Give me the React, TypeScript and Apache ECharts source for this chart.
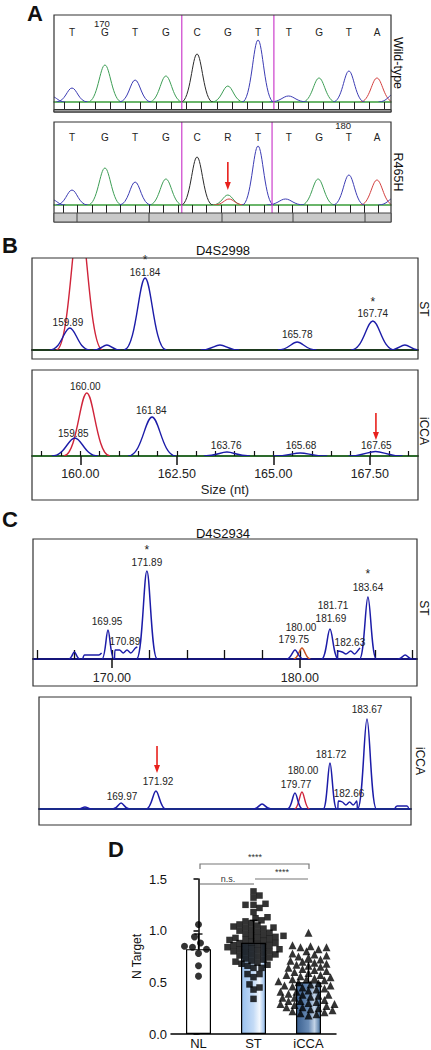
import React, { useEffect, useRef } from "react";
import * as echarts from "echarts";

const FONT = "'Liberation Sans', Arial, Helvetica, sans-serif";

// ---------------- Panel A: Sanger chromatograms (x = base index, y = signal) ----------------
const basePositions = [0, 1.08, 2.07, 3.08, 4.1, 5.11, 6.1, 7.11, 8.1, 9.08, 10];
const baseCallsWT = ["T", "G", "T", "G", "C", "G", "T", "T", "G", "T", "A"];
const baseCallsMut = ["T", "G", "T", "G", "C", "R", "T", "T", "G", "T", "A"];
// peaks: [position, height, half-width]
const wtBlue = [[-0.62, 5, 0.4], [0, 14, 0.52], [2.07, 22, 0.52], [6.1, 62, 0.52], [7.1, 6, 0.62], [9.08, 31, 0.52], [10.55, 8, 0.5]];
const wtGreen = [[1.08, 37, 0.56], [3.08, 26, 0.55], [5.11, 16, 0.52], [8.1, 24, 0.55]];
const wtBlack = [[4.1, 48, 0.52]];
const wtRed = [[10, 24, 0.55]];
const mutBlue = [[-0.62, 5, 0.4], [0, 15, 0.52], [2.07, 23, 0.52], [6.1, 59, 0.52], [7.0, 6, 0.62], [9.08, 30, 0.52], [10.55, 7, 0.5]];
const mutGreen = [[1.08, 37, 0.56], [3.08, 26, 0.55], [5.11, 10, 0.5], [8.07, 26, 0.55]];
const mutBlack = [[4.1, 48, 0.52]];
const mutRed = [[5.15, 6, 0.5], [10, 25, 0.55]];
const magentaWT = [3.6, 6.62];
const magentaMut = [3.6, 6.56];
const arrowMut = [[5.11, 43, 15]];
const wtNumbers = [{ x: 0.98, y: 79, t: "170" }];
const mutNumbers = [{ x: 8.89, y: 79.5, t: "180" }];

// ---------------- Panel B: D4S2998 (x = size nt) ----------------
const b1Blue = [[159.89, 22, 0.52], [160.85, 5, 0.35], [161.84, 72, 0.55], [163.78, 5, 0.5], [165.78, 8, 0.5], [167.74, 29, 0.57], [168.57, 5, 0.4]];
const b1Red = [[160.14, 134, 0.6]];
const b1Labels = [
  { x: 159.84, y: 28, t: "159.89" }, { x: 161.84, y: 78, t: "161.84" }, { x: 161.84, y: 90, t: "*" },
  { x: 165.78, y: 16, t: "165.78" }, { x: 167.74, y: 37, t: "167.74" }, { x: 167.74, y: 48, t: "*" },
];
const b2Blue = [[159.86, 18, 0.6], [161.86, 39, 0.62], [163.8, 4, 0.6], [165.7, 3, 0.7], [167.65, 4.5, 0.7]];
const b2Red = [[160.17, 63, 0.6]];
const b2Labels = [
  { x: 159.82, y: 23, t: "159.85" }, { x: 160.13, y: 70, t: "160.00" }, { x: 161.84, y: 46, t: "161.84" },
  { x: 163.78, y: 11, t: "163.76" }, { x: 165.72, y: 11, t: "165.68" }, { x: 167.67, y: 11, t: "167.65" },
];
const b2Arrow = [[167.66, 43, 16]];
const b2AxisValues = [160, 162.5, 165, 167.5];

// ---------------- Panel C: D4S2934 ----------------
const c1Blue = [[168.0, 7, 0.3], [169.79, 29, 0.32], [171.86, 88, 0.55], [179.74, 9, 0.45], [181.6, 30, 0.45], [183.62, 62, 0.45], [185.6, 4, 0.4]];
const c1Red = [[180.11, 11, 0.45]];
const c1Wiggles = [
  [[168.45, 0], [168.55, 4], [169.3, 4], [169.45, 6]],
  [[170.14, 0], [170.17, 9], [170.4, 9], [170.6, 6], [170.8, 9], [171.0, 6], [171.25, 11], [171.35, 12]],
  [[182.0, 0], [182.03, 8], [182.25, 7], [182.45, 5], [182.7, 8], [182.9, 5], [183.15, 10], [183.2, 11]],
];
const c1Labels = [
  { x: 169.74, y: 38, t: "169.95" }, { x: 170.69, y: 18, t: "170.89" }, { x: 171.86, y: 109, t: "*" },
  { x: 171.86, y: 97, t: "171.89" }, { x: 179.68, y: 20, t: "179.75" }, { x: 180.06, y: 32, t: "180.00" },
  { x: 181.65, y: 41, t: "181.69" }, { x: 181.76, y: 54, t: "181.71" }, { x: 182.66, y: 17, t: "182.63" },
  { x: 183.62, y: 85, t: "*" }, { x: 183.62, y: 72, t: "183.64" },
];
const c1AxisValues = [170, 180];
const c2Blue = [[167.97, 2, 0.4], [169.98, 6, 0.47], [171.92, 18, 0.55], [177.83, 5, 0.5], [179.66, 16, 0.42], [181.61, 46, 0.38], [183.67, 90, 0.53]];
const c2Red = [[180.05, 17, 0.42]];
const c2Wiggles = [
  [[182.05, 0], [182.08, 8], [182.3, 7], [182.5, 4], [182.7, 7], [182.9, 4], [183.1, 8], [183.13, 0]],
  [[185.2, 0], [185.35, 3], [185.9, 3], [186.0, 0]],
];
const c2Labels = [
  { x: 170.03, y: 13, t: "169.97" }, { x: 172.04, y: 28, t: "171.92" }, { x: 179.72, y: 25, t: "179.77" },
  { x: 180.11, y: 39, t: "180.00" }, { x: 181.67, y: 55, t: "181.72" }, { x: 182.67, y: 16, t: "182.66" },
  { x: 183.67, y: 100, t: "183.67" },
];
const c2Arrow = [[171.98, 63, 36]];

// ---------------- Panel D: N Target ----------------
const categories = ["NL", "ST", "iCCA"];
const nlValues = [1.06, 0.94, 0.88, 0.85, 0.84, 0.82, 0.78, 0.66, 0.56];
const stValues = [
  1.38, 1.34, 1.32, 1.26, 1.25, 1.25, 1.22, 1.18,
  1.13, 1.12, 1.10, 1.09, 1.07, 1.06, 1.05, 1.04, 1.03, 1.03, 1.02, 1.01,
  1.00, 0.99, 0.98, 0.97, 0.96, 0.95, 0.95, 0.94, 0.93, 0.93, 0.92, 0.91,
  0.91, 0.90, 0.89, 0.88, 0.88, 0.87, 0.86, 0.86, 0.85, 0.84, 0.84, 0.83,
  0.82, 0.82, 0.81, 0.80, 0.80, 0.79, 0.78, 0.77, 0.77, 0.76, 0.75, 0.74,
  0.73, 0.72, 0.71, 0.70, 0.69, 0.68, 0.67, 0.66, 0.64, 0.64,
  0.58, 0.58, 0.55, 0.48, 0.45, 0.43, 0.34,
];
const iccaValues = [
  0.98, 0.86, 0.85, 0.84, 0.84, 0.82, 0.80, 0.78, 0.77, 0.76, 0.75, 0.74, 0.72,
  0.71, 0.70, 0.69, 0.68, 0.67, 0.66, 0.65, 0.64, 0.63, 0.62, 0.61, 0.60, 0.59,
  0.58, 0.57, 0.57, 0.56, 0.55, 0.54, 0.53, 0.53, 0.52, 0.51, 0.50, 0.50, 0.49,
  0.48, 0.47, 0.47, 0.46, 0.45, 0.44, 0.44, 0.43, 0.42, 0.41, 0.41, 0.40, 0.39,
  0.38, 0.38, 0.37, 0.36, 0.35, 0.35, 0.34, 0.33, 0.32, 0.32, 0.31, 0.30, 0.29,
  0.29, 0.28, 0.27, 0.26, 0.26, 0.25, 0.24, 0.23, 0.22, 0.21, 0.20, 0.19, 0.18,
];
const yTicksD = [0, 0.5, 1.0, 1.5];

// ---------------- helpers ----------------
const mean = (a: number[]) => a.reduce((s, v) => s + v, 0) / a.length;
const sd = (a: number[]) => {
  const m = mean(a);
  return Math.sqrt(a.reduce((s, v) => s + (v - m) * (v - m), 0) / (a.length - 1));
};

function swarm(values: number[], cat: number, pxPerVal: number, pxPerCat: number, dist: number, step: number) {
  const sorted = [...values].sort((a, b) => a - b);
  const placed: number[][] = [];
  const out: number[][] = [];
  for (const v of sorted) {
    const y = v * pxPerVal;
    let chosen = 0;
    for (let k = 0; k < 80; k++) {
      const off = k === 0 ? 0 : (k % 2 === 1 ? 1 : -1) * Math.ceil(k / 2) * step;
      if (placed.every((p) => (p[0] - off) ** 2 + (p[1] - y) ** 2 >= dist * dist)) {
        chosen = off;
        break;
      }
    }
    placed.push([chosen, y]);
    out.push([cat + chosen / pxPerCat, v]);
  }
  return out;
}

function peakSeries(ai: number, data: number[][], color: string, lw: number) {
  return {
    type: "custom",
    xAxisIndex: ai,
    yAxisIndex: ai,
    data,
    clip: true,
    silent: true,
    z: 3,
    renderItem: (params: any, api: any) => {
      const pos = api.value(0), h = api.value(1), w = api.value(2);
      const P = (x: number, y: number) => api.coord([x, y]);
      const a = P(pos - w, 0), c1 = P(pos - w * 0.43, 0), c2 = P(pos - w * 0.29, h), t = P(pos, h);
      const c3 = P(pos + w * 0.29, h), c4 = P(pos + w * 0.43, 0), b = P(pos + w, 0);
      const d = `M${a[0]} ${a[1]}C${c1[0]} ${c1[1]} ${c2[0]} ${c2[1]} ${t[0]} ${t[1]}C${c3[0]} ${c3[1]} ${c4[0]} ${c4[1]} ${b[0]} ${b[1]}`;
      return { type: "path", shape: { pathData: d }, style: { stroke: color, fill: "none", lineWidth: lw } };
    },
  };
}

function wiggleSeries(ai: number, data: number[][], color: string, lw: number) {
  return {
    type: "line", xAxisIndex: ai, yAxisIndex: ai, data, smooth: 0.3, showSymbol: false, silent: true, z: 3,
    lineStyle: { color, width: lw },
  };
}

function textSeries(ai: number, labels: { x: number; y: number; t: string }[], size: number, color = "#222") {
  return {
    type: "custom", xAxisIndex: ai, yAxisIndex: ai, clip: false, silent: true, z: 6,
    data: labels.map((l) => [l.x, l.y]),
    renderItem: (params: any, api: any) => {
      const p = api.coord([api.value(0), api.value(1)]);
      const txt = labels[params.dataIndex].t;
      const fs = txt === "*" ? 12 : size;
      return {
        type: "text", x: p[0], y: p[1],
        style: {
          text: txt, fill: color, font: `${fs}px ${FONT}`, fontSize: fs, fontFamily: FONT,
          align: "center", verticalAlign: "middle", textAlign: "center", textVerticalAlign: "middle",
        },
      };
    },
  };
}

function vlineSeries(ai: number, xs: number[], ymin: number, ymax: number, color: string) {
  return {
    type: "custom", xAxisIndex: ai, yAxisIndex: ai, clip: false, silent: true, z: 4,
    data: xs.map((x) => [x]),
    renderItem: (params: any, api: any) => {
      const a = api.coord([api.value(0), ymin]);
      const b = api.coord([api.value(0), ymax]);
      return { type: "line", shape: { x1: a[0], y1: a[1], x2: b[0], y2: b[1] }, style: { stroke: color, lineWidth: 1.2 } };
    },
  };
}

function arrowSeries(ai: number, data: number[][]) {
  return {
    type: "custom", xAxisIndex: ai, yAxisIndex: ai, clip: false, silent: true, z: 7,
    data,
    renderItem: (params: any, api: any) => {
      const a = api.coord([api.value(0), api.value(1)]);
      const b = api.coord([api.value(0), api.value(2)]);
      const head = 8;
      return {
        type: "group",
        children: [
          { type: "line", shape: { x1: a[0], y1: a[1], x2: b[0], y2: b[1] - head + 1 }, style: { stroke: "#e8201c", lineWidth: 1.6 } },
          { type: "polygon", shape: { points: [[b[0] - 3, b[1] - head], [b[0] + 3, b[1] - head], [b[0], b[1]]] }, style: { fill: "#e8201c" } },
        ],
      };
    },
  };
}

const range = (start: number, step: number, n: number) => Array.from({ length: n }, (_, i) => +(start + i * step).toFixed(4));

function chromAxis(gi: number, min: number, max: number, lineColor: string, lw: number, extra: any = {}) {
  return {
    type: "value", gridIndex: gi, min, max, splitLine: { show: false },
    axisLine: { show: lw > 0, onZero: false, lineStyle: { color: lineColor, width: lw } },
    axisTick: { show: false }, axisLabel: { show: false },
    ...extra,
  };
}

// boxes drawn around each trace panel: [left, top, width, height]
const boxes = [
  [54, 15, 337, 97], [54, 122, 337, 100], [32, 258, 386, 101], [32, 370, 386, 130], [33, 539, 384, 147], [39, 697, 372, 128],
];

function buildOption() {
  // plotting grids: top of box down to the baseline
  const grids = [
    { left: 54, top: 15, width: 337, height: 87 },   // 0 A1
    { left: 54, top: 122, width: 337, height: 83 },  // 1 A2
    { left: 32, top: 258, width: 386, height: 92 },  // 2 B1
    { left: 32, top: 370, width: 386, height: 86 },  // 3 B2
    { left: 32, top: 370, width: 386, height: 86 },  // 4 B2 ticks
    { left: 33, top: 539, width: 384, height: 120 }, // 5 C1
    { left: 33, top: 539, width: 384, height: 120 }, // 6 C1 ticks
    { left: 39, top: 697, width: 372, height: 112 }, // 7 C2
    { left: 171, top: 879, width: 165, height: 156 }, // 8 D
  ];

  const tickStyle = { color: "#222", width: 1 };
  const xAxes: any[] = [
    chromAxis(0, -0.59, 10.46, "#3a9d3a", 1.5, { axisTick: { show: true, customValues: range(-0.25, 0.5, 22), length: 7, lineStyle: tickStyle } }),
    chromAxis(1, -0.59, 10.46, "#3a9d3a", 1.5, { axisTick: { show: true, customValues: range(-0.285, 0.47, 23), length: 8, lineStyle: tickStyle } }),
    chromAxis(2, 158.91, 168.91, "#1e3a1e", 2),
    chromAxis(3, 158.75, 168.75, "#2d6b2d", 2, {
      axisTick: { show: true, customValues: b2AxisValues, length: 9, lineStyle: { color: "#111", width: 1.5 } },
      axisLabel: { show: true, customValues: b2AxisValues, formatter: (v: number) => v.toFixed(2), fontSize: 12.5, fontFamily: FONT, color: "#222", margin: 11 },
      name: "Size (nt)", nameLocation: "middle", nameGap: 27, nameTextStyle: { fontSize: 13, fontFamily: FONT, color: "#222" },
    }),
    chromAxis(4, 158.75, 168.75, "#2d6b2d", 0, {
      axisTick: { show: true, inside: true, customValues: range(159, 0.5, 20), length: 5, lineStyle: { color: "#111", width: 1.2 } },
    }),
    chromAxis(5, 165.8, 186.23, "#15157a", 2, {
      axisTick: { show: true, customValues: c1AxisValues, length: 9, lineStyle: { color: "#111", width: 1.5 } },
      axisLabel: { show: true, customValues: c1AxisValues, formatter: (v: number) => v.toFixed(2), fontSize: 12.5, fontFamily: FONT, color: "#222", margin: 12 },
    }),
    chromAxis(6, 165.8, 186.23, "#15157a", 0, {
      axisTick: { show: true, inside: true, customValues: range(166, 2, 11), length: 9, lineStyle: { color: "#111", width: 1.3 } },
    }),
    chromAxis(7, 165.41, 186.12, "#1a2a8a", 2),
    {
      type: "category", gridIndex: 8, data: categories,
      axisLine: { show: true, lineStyle: { color: "#000", width: 1.5 } },
      axisTick: { show: false },
      axisLabel: { fontSize: 13, fontFamily: FONT, color: "#111", margin: 3 },
    },
    { type: "value", gridIndex: 8, min: -0.5, max: 2.5, show: false },
  ];

  const yMax = [87, 83, 92, 86, 86, 120, 120, 112];
  const yAxes: any[] = yMax.map((m, i) => ({ type: "value", gridIndex: i, min: 0, max: m, show: false }));
  yAxes.push({
    type: "value", gridIndex: 8, min: 0, max: 1.5, interval: 0.5,
    axisLine: { show: true, lineStyle: { color: "#000", width: 1.5 } },
    axisTick: { show: true, length: 5, lineStyle: { color: "#000", width: 1.5 } },
    axisLabel: { fontSize: 13, fontFamily: FONT, color: "#111", margin: 4, formatter: (v: number) => v.toFixed(1), customValues: yTicksD },
    splitLine: { show: false },
    name: "N Target", nameLocation: "middle", nameGap: 28, nameTextStyle: { fontSize: 12, fontFamily: FONT, color: "#111" },
  });

  const BLUE_A = "#3c3cb4", GREEN_A = "#3d9e55", BLACK_A = "#2a2a2a", RED_A = "#d4403f";
  const BLUE = "#1c1ca8", RED = "#d0243a", ORANGE = "#c8501e";

  const baseLabelsWT = baseCallsWT.map((t, i) => ({ x: basePositions[i], y: 70, t }));
  const baseLabelsMut = baseCallsMut.map((t, i) => ({ x: basePositions[i], y: 68, t }));

  const groups = [nlValues, stValues, iccaValues];
  const means = groups.map(mean);
  const sds = groups.map(sd);
  const pxPerVal = 156 / 1.5;
  const pxPerCat = 165 / 3;

  const stGrad = new echarts.graphic.LinearGradient(0, 0, 1, 0, [
    { offset: 0, color: "#98c0ee" }, { offset: 0.5, color: "#c4dbf6" }, { offset: 0.75, color: "#f3f8fe" }, { offset: 1, color: "#8cb6e8" },
  ]);
  const iccaGrad = new echarts.graphic.LinearGradient(0, 0, 1, 0, [
    { offset: 0, color: "#3a6090" }, { offset: 0.5, color: "#6a8cb6" }, { offset: 0.75, color: "#c2d3e6" }, { offset: 1, color: "#46709e" },
  ]);

  const series: any[] = [
    // A1
    peakSeries(0, wtGreen, GREEN_A, 1), peakSeries(0, wtBlack, BLACK_A, 1), peakSeries(0, wtRed, RED_A, 1), peakSeries(0, wtBlue, BLUE_A, 1),
    vlineSeries(0, magentaWT, -10, 87, "#cc3fcc"),
    textSeries(0, baseLabelsWT, 10), textSeries(0, wtNumbers, 9.5),
    // A2
    peakSeries(1, mutGreen, GREEN_A, 1), peakSeries(1, mutBlack, BLACK_A, 1), peakSeries(1, mutRed, RED_A, 1), peakSeries(1, mutBlue, BLUE_A, 1),
    vlineSeries(1, magentaMut, -8, 83, "#cc3fcc"),
    textSeries(1, baseLabelsMut, 10), textSeries(1, mutNumbers, 9.5),
    arrowSeries(1, arrowMut),
    // B1
    peakSeries(2, b1Red, RED, 1.4), peakSeries(2, b1Blue, BLUE, 1.4), textSeries(2, b1Labels, 10),
    // B2
    peakSeries(3, b2Red, RED, 1.4), peakSeries(3, b2Blue, BLUE, 1.4), textSeries(3, b2Labels, 10), arrowSeries(3, b2Arrow),
    // C1
    peakSeries(5, c1Red, ORANGE, 1.4), peakSeries(5, c1Blue, BLUE, 1.5),
    ...c1Wiggles.map((w) => wiggleSeries(5, w, BLUE, 1.4)),
    textSeries(5, c1Labels, 10),
    // C2
    peakSeries(7, c2Red, RED, 1.4), peakSeries(7, c2Blue, BLUE, 1.5),
    ...c2Wiggles.map((w) => wiggleSeries(7, w, BLUE, 1.4)),
    textSeries(7, c2Labels, 10), arrowSeries(7, c2Arrow),
    // D bars
    {
      type: "bar", xAxisIndex: 8, yAxisIndex: 8, barWidth: 25, z: 2, silent: true,
      data: means.map((m, i) => ({
        value: m,
        itemStyle: { color: i === 0 ? "#ffffff" : i === 1 ? stGrad : iccaGrad, borderColor: "#000", borderWidth: 1.2 },
      })),
    },
    {
      type: "custom", xAxisIndex: 9, yAxisIndex: 8, z: 3, silent: true, clip: false,
      data: means.map((m, i) => [i, m, sds[i]]),
      renderItem: (params: any, api: any) => {
        const a = api.coord([api.value(0), api.value(1)]);
        const b = api.coord([api.value(0), api.value(1) + api.value(2)]);
        const st = { stroke: "#000", lineWidth: 1.3 };
        return {
          type: "group",
          children: [
            { type: "line", shape: { x1: a[0], y1: a[1], x2: b[0], y2: b[1] }, style: st },
            { type: "line", shape: { x1: b[0] - 4, y1: b[1], x2: b[0] + 4, y2: b[1] }, style: st },
          ],
        };
      },
    },
    {
      type: "scatter", xAxisIndex: 9, yAxisIndex: 8, symbol: "circle", symbolSize: 7, z: 5, silent: true,
      itemStyle: { color: "#000" }, data: swarm(nlValues, 0, pxPerVal, pxPerCat, 8, 2),
    },
    {
      type: "scatter", xAxisIndex: 9, yAxisIndex: 8, symbol: "rect", symbolSize: 6.5, z: 5, silent: true,
      itemStyle: { color: "#000" }, data: swarm(stValues, 1, pxPerVal, pxPerCat, 6.2, 2),
    },
    {
      type: "scatter", xAxisIndex: 9, yAxisIndex: 8, symbol: "triangle", symbolSize: 8, z: 5, silent: true,
      itemStyle: { color: "#000" }, data: swarm(iccaValues, 2, pxPerVal, pxPerCat, 6.4, 2),
    },
  ];

  const txt = (x: number, y: number, text: string, size: number, opts: any = {}) => ({
    type: "text", x, y, z: 20, rotation: opts.rotation || 0,
    style: {
      text, fill: opts.color || "#111", font: `${opts.bold ? "bold " : ""}${size}px ${FONT}`,
      fontSize: size, fontFamily: FONT, fontWeight: opts.bold ? "bold" : "normal",
      align: "center", verticalAlign: "middle", textAlign: "center", textVerticalAlign: "middle",
    },
  });
  const ln = (x1: number, y1: number, x2: number, y2: number, color: string, w: number) => ({
    type: "line", z: 20, shape: { x1, y1, x2, y2 }, style: { stroke: color, lineWidth: w },
  });

  const graphic: any[] = [
    ...boxes.map((b) => ({ type: "rect", z: 19, shape: { x: b[0], y: b[1], width: b[2], height: b[3] }, style: { fill: "none", stroke: "#333", lineWidth: 1.2 } })),
    txt(35, 13, "A", 22, { bold: true }),
    txt(10, 245, "B", 22, { bold: true }),
    txt(10, 519, "C", 22, { bold: true }),
    txt(116, 849, "D", 22, { bold: true }),
    txt(223, 250, "D4S2998", 13),
    txt(223, 533, "D4S2934", 13),
    txt(398, 63, "Wild-type", 12.5, { rotation: -Math.PI / 2 }),
    txt(398, 172, "R465H", 12.5, { rotation: -Math.PI / 2 }),
    txt(424, 309, "ST", 12, { rotation: -Math.PI / 2 }),
    txt(424, 431, "iCCA", 12, { rotation: -Math.PI / 2 }),
    txt(424, 608, "ST", 12, { rotation: -Math.PI / 2 }),
    txt(420, 761, "iCCA", 12, { rotation: -Math.PI / 2 }),
    // A1 bottom strip
    { type: "rect", z: 20, shape: { x: 54, y: 109.5, width: 337, height: 2.5 }, style: { fill: "#9a9a9a", stroke: "#333", lineWidth: 1 } },
    // A2 scale bar
    { type: "rect", z: 20, shape: { x: 54, y: 213, width: 337, height: 9 }, style: { fill: "#c9c9c9", stroke: "#444", lineWidth: 1 } },
    ...[77, 149, 222, 293, 365].map((x) => ln(x, 213, x, 222, "#444", 1)),
    // significance
    { type: "polyline", z: 20, shape: { points: [[200, 869], [200, 864], [309, 864], [309, 869]] }, style: { stroke: "#777", lineWidth: 1.2, fill: "none" } },
    txt(255, 857, "****", 9, { color: "#333" }),
    ln(200, 884, 254, 884, "#999", 1.5),
    txt(228, 879, "n.s.", 9, { color: "#333" }),
    ln(255, 879, 308, 879, "#777", 1.2),
    txt(282, 872, "****", 9, { color: "#333" }),
  ];

  return {
    animation: false,
    backgroundColor: "#ffffff",
    textStyle: { fontFamily: FONT },
    grid: grids,
    xAxis: xAxes,
    yAxis: yAxes,
    series,
    graphic,
  };
}

export default function App() {
  const ref = useRef<HTMLDivElement>(null);
  useEffect(() => {
    const chart = echarts.init(ref.current as HTMLDivElement, null, { renderer: "svg", width: 431, height: 1050 });
    chart.setOption(buildOption() as any);
    return () => chart.dispose();
  }, []);
  return <div ref={ref} style={{ position: "absolute", left: 0, top: 0, width: 431, height: 1050, background: "#fff" }} />;
}
